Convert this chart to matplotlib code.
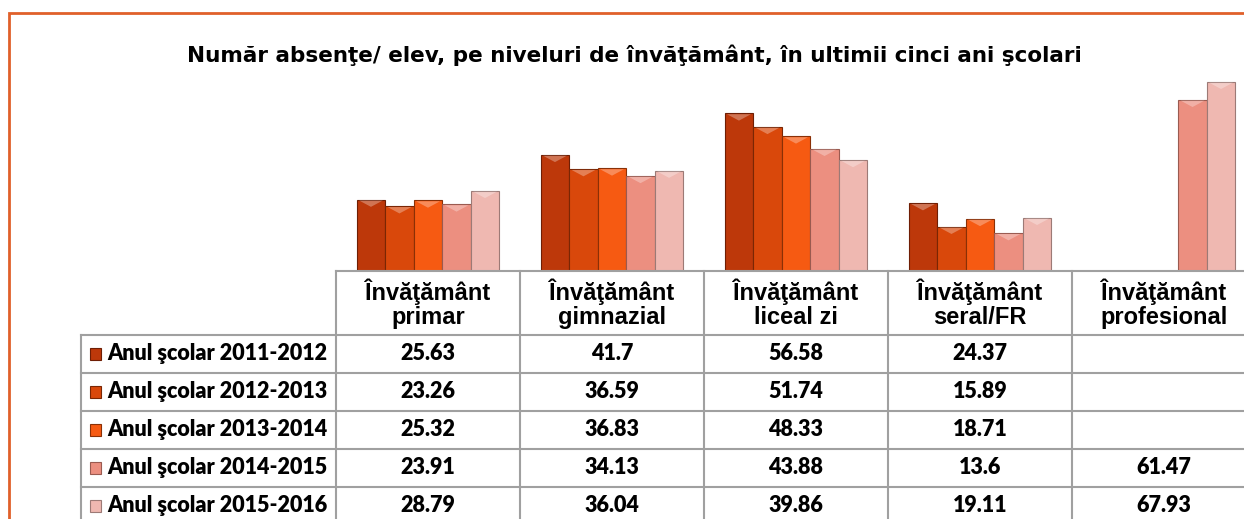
import numpy as np
import matplotlib.pyplot as plt
from matplotlib.patches import Rectangle, Polygon
from matplotlib.lines import Line2D
from matplotlib.transforms import blended_transform_factory

# data
categories = ["Învăţământ\nprimar", "Învăţământ\ngimnazial", "Învăţământ\nliceal zi",
              "Învăţământ\nseral/FR", "Învăţământ\nprofesional"]
series_names = ["Anul şcolar 2011-2012", "Anul şcolar 2012-2013", "Anul şcolar 2013-2014",
                "Anul şcolar 2014-2015", "Anul şcolar 2015-2016"]
y2011 = [25.63, 41.7, 56.58, 24.37, np.nan]
y2012 = [23.26, 36.59, 51.74, 15.89, np.nan]
y2013 = [25.32, 36.83, 48.33, 18.71, np.nan]
y2014 = [23.91, 34.13, 43.88, 13.6, 61.47]
y2015 = [28.79, 36.04, 39.86, 19.11, 67.93]
values = [y2011, y2012, y2013, y2014, y2015]
colors = ["#bd380a", "#d9480b", "#f65a12", "#ec8f80", "#efb8b1"]
edges = ["#6e1e04", "#7a2604", "#8a3006", "#9a5a50", "#9c7a76"]

W, H = 1244, 519
TXT = "Lato"


def fx(x):
    return x / W


def fy(y):
    return 1 - y / H


fig = plt.figure(figsize=(W / 100, H / 100), dpi=100)
fig.patch.set_facecolor("white")

# outer orange frame (runs off the right and bottom)
fig.add_artist(Rectangle((fx(9), fy(560)), fx(1300), fy(13) - fy(560), transform=fig.transFigure,
                         fill=False, edgecolor="#e0602a", linewidth=2))

fig.text(fx(634), fy(55), "Număr absenţe/ elev, pe niveluri de învăţământ, în ultimii cinci ani şcolari",
         ha="center", va="center", fontsize=15.5, fontweight="bold", family="DejaVu Sans")

# bar area, x from -0.5..4.5 over the table columns
left, right, base, top = 336, 1256, 271, 76
ax = fig.add_axes([fx(left), fy(base), fx(right) - fx(left), fy(top) - fy(base)])
ymax = 70
ax.set_xlim(-0.5, 4.5)
ax.set_ylim(0, ymax)
ax.axis("off")

x = np.arange(len(categories))
bw = 0.155
for i, vals in enumerate(values):
    bars = ax.bar(x + (i - 2) * bw, vals, bw, color=colors[i], edgecolor=edges[i], linewidth=0.8)
    # light chevron on top of each bar (bevel look)
    for b in bars:
        h = b.get_height()
        if np.isnan(h):
            continue
        x0, w = b.get_x(), b.get_width()
        ax.add_patch(Polygon([[x0 + w * 0.08, h - 0.3], [x0 + w * 0.92, h - 0.3], [x0 + w / 2, h - 2.6]],
                             closed=True, facecolor="white", alpha=0.3, edgecolor="none"))

# table under the bars
tr = blended_transform_factory(ax.transData, fig.transFigure)
grid = "#a0a0a0"
row_top = 335
row_h = 38
n_rows = len(series_names)
bottom = row_top + row_h * (n_rows + 1)

fig.add_artist(Line2D([fx(left), fx(1300)], [fy(base), fy(base)], transform=fig.transFigure,
                      color=grid, lw=1.5))
fig.add_artist(Line2D([fx(81), fx(1300)], [fy(row_top), fy(row_top)], transform=fig.transFigure,
                      color=grid, lw=1.5))
for r in range(1, n_rows + 1):
    yy = row_top + r * row_h
    fig.add_artist(Line2D([fx(81), fx(1300)], [fy(yy), fy(yy)], transform=fig.transFigure,
                          color=grid, lw=1.5))
fig.add_artist(Line2D([fx(81), fx(81)], [fy(row_top), fy(bottom)], transform=fig.transFigure,
                      color=grid, lw=1.5))
for k in range(len(categories)):
    ax.add_artist(Line2D([k - 0.5, k - 0.5], [fy(base), fy(bottom)], transform=tr,
                         color=grid, lw=1.5, clip_on=False))

for k, cat in enumerate(categories):
    ax.text(k, fy(304), cat, transform=tr, ha="center", va="center",
            fontsize=17, fontweight="bold", family="Liberation Sans", linespacing=1.05)

for r, name in enumerate(series_names):
    yc = row_top + r * row_h + row_h / 2
    fig.add_artist(Rectangle((fx(90), fy(yc + 6)), fx(11), fy(yc - 6) - fy(yc + 6),
                             transform=fig.transFigure, facecolor=colors[r],
                             edgecolor=edges[r], linewidth=0.8))
    fig.text(fx(107), fy(yc), name, ha="left", va="center", fontsize=15.5,
             fontweight="heavy", family=TXT)
    for k in range(len(categories)):
        v = values[r][k]
        if np.isnan(v):
            continue
        ax.text(k, fy(yc), f"{v:g}", transform=tr, ha="center", va="center",
                fontsize=15.5, fontweight="heavy", family=TXT, clip_on=False)

fig.savefig("out.png", dpi=100)
